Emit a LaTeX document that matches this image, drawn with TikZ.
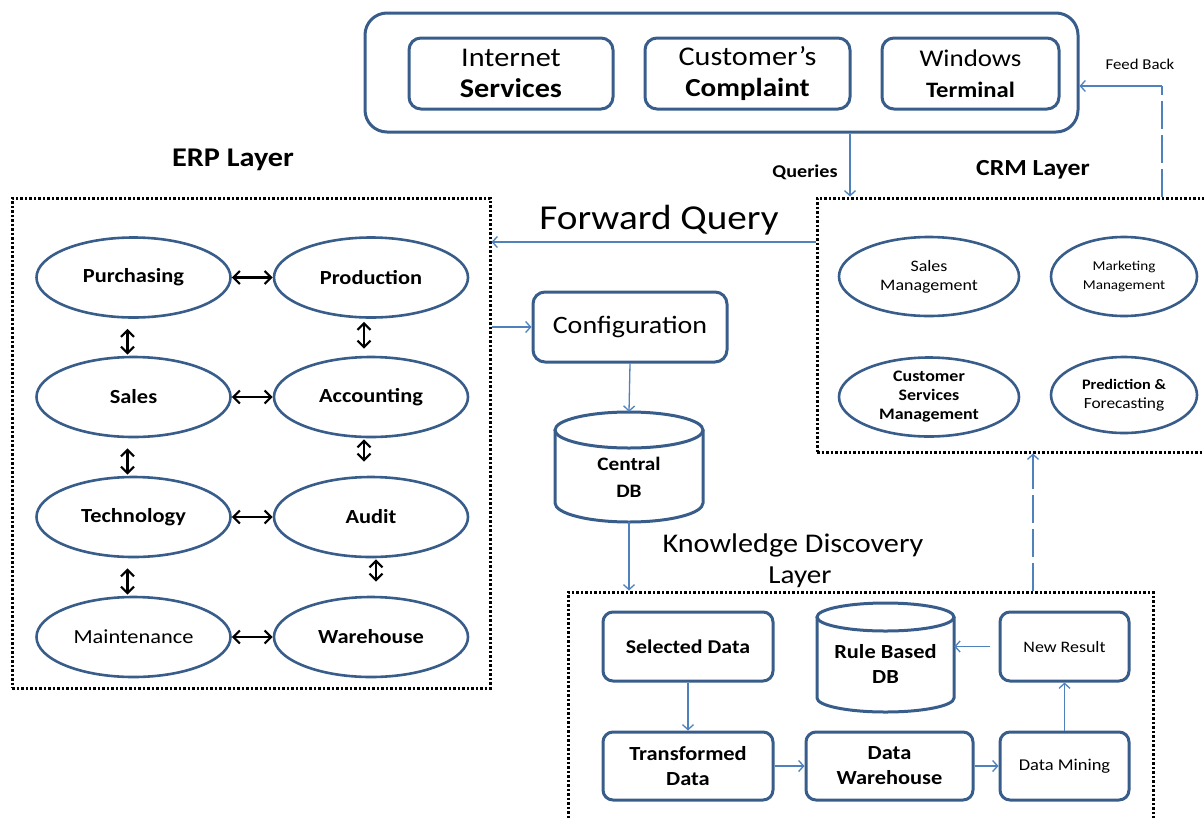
\documentclass[tikz,border=0pt]{standalone}
\usepackage{fontspec}
\setmainfont{Carlito}[FakeStretch=1.12]
\usetikzlibrary{shapes.geometric,arrows.meta}
\definecolor{shapeblue}{RGB}{56,93,138}
\definecolor{arrowblue}{RGB}{79,129,189}
\newcommand\fsz[2]{\fontsize{#1}{#2}\selectfont}
\begin{document}
\begin{tikzpicture}[x=1pt,y=-1pt,
 rbox/.style={draw=shapeblue, line width=3pt, rounded corners=12pt, align=center, inner sep=0pt},
 ell/.style={draw=shapeblue, line width=2.6pt, ellipse, inner sep=0pt, align=center},
 layer/.style={draw=black, line width=3pt, dash pattern=on 2.5pt off 2pt, inner sep=0pt},
 flow/.style={draw=arrowblue, line width=1.3pt, -{Straight Barb[length=5pt,width=11pt]}},
 dashline/.style={draw=arrowblue, line width=1.3pt, dash pattern=on 28pt off 6pt},
 dbl/.style={draw=black, line width=2.2pt, {Straight Barb[length=6.5pt,width=13pt]}-{Straight Barb[length=6.5pt,width=13pt]}},
 lbl/.style={inner sep=0pt, align=center},
 erpell/.style={ell, minimum width=194pt, minimum height=80pt, font=\fsz{20}{24}\bfseries},
 crmell/.style={ell, minimum height=79pt, font=\fsz{16}{19}},
 kdbox/.style={rbox, line width=3pt, rounded corners=10pt, font=\fsz{20}{25}\bfseries},
 dbshape/.style={draw=shapeblue, line width=3pt},
]
\useasboundingbox (0,0) rectangle (1204,817);

% ---------- top box ----------
\node[rbox, minimum width=713pt, minimum height=119pt, rounded corners=22pt] (top) at (721.5,72.5) {};
\node[rbox, minimum width=204pt, minimum height=71pt, font=\fsz{27}{31}] (inet) at (511,73.5) {Internet\\\bfseries Services};
\node[rbox, minimum width=205pt, minimum height=71pt, font=\fsz{27}{31}] (comp) at (747.5,73.5) {Customer’s\\\fsz{26}{31}\bfseries Complaint};
\node[rbox, minimum width=177pt, minimum height=71pt, font=\fsz{24}{31}] (win) at (970.5,73.5) {Windows\\\fsz{22}{31}\bfseries Terminal};

% ---------- labels ----------
\node[lbl, font=\fsz{15}{18}] (fbl) at (1140,64) {Feed Back};
\node[lbl, font=\fsz{18}{21}\bfseries] (ql) at (805,172) {Queries};
\node[lbl, font=\fsz{23}{28}\bfseries] (crml) at (1033,170) {CRM Layer};
\node[lbl, font=\fsz{27}{30}\bfseries] (erpl) at (233,160) {ERP Layer};
\node[lbl, font=\fsz{35}{40}] (fql) at (659,220) {Forward Query};
\node[lbl, font=\fsz{27}{30}] (kdl1) at (793,545) {Knowledge Discovery};
\node[lbl, font=\fsz{26}{30}] (kdl2) at (800,577) {Layer};

% ---------- layer boxes ----------
\node[layer, minimum width=478pt, minimum height=490pt] (erp) at (251,443) {};
\node[layer, minimum width=393pt, minimum height=254pt] (crm) at (1013.5,325) {};
\node[layer, minimum width=585pt, minimum height=240pt] (kd) at (860.5,712) {};

% ---------- ERP ellipses ----------
\node[erpell] (purch) at (133.5,277.5) {Purchasing};
\node[erpell] (prod)  at (371,277.5) {Production};
\node[erpell] (sales) at (133.5,397) {Sales};
\node[erpell] (acc)   at (371,397) {Accounting};
\node[erpell] (tech)  at (133.5,517) {Technology};
\node[erpell] (audit) at (371,517) {Audit};
\node[erpell, font=\fsz{20}{24}] (maint) at (133.5,637) {Maintenance};
\node[erpell] (ware)  at (371,637) {Warehouse};

\draw[dbl] (purch.east) -- (prod.west);
\draw[dbl] (sales.east) -- (acc.west);
\draw[dbl] (tech.east) -- (audit.west);
\draw[dbl] (maint.east) -- (ware.west);
\draw[dbl, shorten <=10pt, shorten >=1pt] ([xshift=-6pt]purch.south) -- ([xshift=-6pt]sales.north);
\draw[dbl, shorten <=10pt, shorten >=1pt] ([xshift=-6pt]sales.south) -- ([xshift=-6pt]tech.north);
\draw[dbl, shorten <=10pt, shorten >=1pt] ([xshift=-6pt]tech.south) -- ([xshift=-6pt]maint.north);
\draw[dbl, shorten <=3pt, shorten >=7pt] ([xshift=-7pt]prod.south) -- ([xshift=-7pt]acc.north);
\draw[dbl, shorten <=1pt, shorten >=14pt] ([xshift=-7pt]acc.south) -- ([xshift=-7pt]audit.north);
\draw[dbl, shorten <=1pt, shorten >=14pt] ([xshift=5pt]audit.south) -- ([xshift=5pt]ware.north);

% ---------- CRM ellipses ----------
\node[crmell, minimum width=180pt] (sm)  at (929,276.5) {Sales\\Management};
\node[crmell, minimum width=146pt, font=\fsz{13.5}{19}] (mm)  at (1124,276.5) {Marketing\\Management};
\node[crmell, minimum width=180pt, font=\fsz{16}{19}\bfseries] (csm) at (929,397) {Customer\\Services\\Management};
\node[crmell, minimum width=146pt, minimum height=76pt] (pf) at (1124,395) {\fsz{14.5}{19}\bfseries Prediction \&\\\fsz{15.5}{21}Forecasting};

% ---------- middle ----------
\node[rbox, minimum width=194pt, minimum height=70pt, font=\fsz{25}{30}] (config) at (630,327) {Configuration};

\draw[dbshape] (555,430) -- (555,503) arc[start angle=180,end angle=0,x radius=74,y radius=19] -- (703,430);
\draw[dbshape] (629,430) ellipse[x radius=74,y radius=18];
\node[lbl, minimum width=148pt, minimum height=110pt, font=\fsz{19}{27}\bfseries] (cdb) at (629,467) {};
\node[lbl, font=\fsz{19}{27}\bfseries] (cdbt) at (629,477) {Central\\DB};

\node[rbox, minimum width=170pt, minimum height=69pt, rounded corners=10pt, font=\fsz{19.5}{25}\bfseries] (sd) at (688,646.5) {Selected Data};
\draw[dbshape] (817,617) -- (817,698) arc[start angle=180,end angle=0,x radius=68.5,y radius=14] -- (954,617);
\draw[dbshape] (885.5,617) ellipse[x radius=68.5,y radius=14];
\node[lbl, minimum width=137pt, minimum height=109pt] (rb) at (885.5,657.5) {};
\node[lbl, font=\fsz{20}{25}\bfseries] (rbt) at (885.5,664) {Rule Based\\DB};
\node[rbox, minimum width=129pt, minimum height=69pt, rounded corners=10pt, font=\fsz{16}{20}] (nr) at (1064.5,646.5) {New Result};
\node[kdbox, minimum width=170pt, minimum height=68pt] (td) at (688,766) {Transformed\\Data};
\node[kdbox, minimum width=167pt, minimum height=68pt] (dw) at (889.5,766) {Data\\Warehouse};
\node[rbox, minimum width=129pt, minimum height=68pt, rounded corners=10pt, font=\fsz{16.5}{20}] (dm) at (1064.5,766) {Data Mining};

% ---------- connectors ----------
\coordinate (fb) at (1162,86);
\coordinate (qx) at (850,0);
\coordinate (fq) at (659,242);
\coordinate (kdup) at (1033,0);

\draw[dashline] (crm.north -| fb) -- (fb);
\draw[flow] (fb) -- (top.east |- fb);
\draw[flow] (top.south -| qx) -- (crm.north -| qx);
\draw[flow] (crm.west |- fq) -- (erp.east |- fq);
\draw[flow] (erp.east |- config.west) -- (config.west);
\draw[flow] (config.south) -- (cdb.north);
\draw[flow] (cdb.south) -- (cdb.south |- kd.north);
\draw[flow] (sd.south) -- (td.north);
\draw[flow] (td.east) -- (dw.west);
\draw[flow] (dw.east) -- (dm.west);
\draw[flow] (dm.north) -- (nr.south);
\draw[flow] ([xshift=-9pt]nr.west) -- (nr.west -| rb.east);
\draw[dashline] (kd.north -| kdup) -- ([yshift=-8pt]crm.south -| kdup);
\draw[flow] ([yshift=-8pt]crm.south -| kdup) -- (crm.south -| kdup);
\end{tikzpicture}
\end{document}
